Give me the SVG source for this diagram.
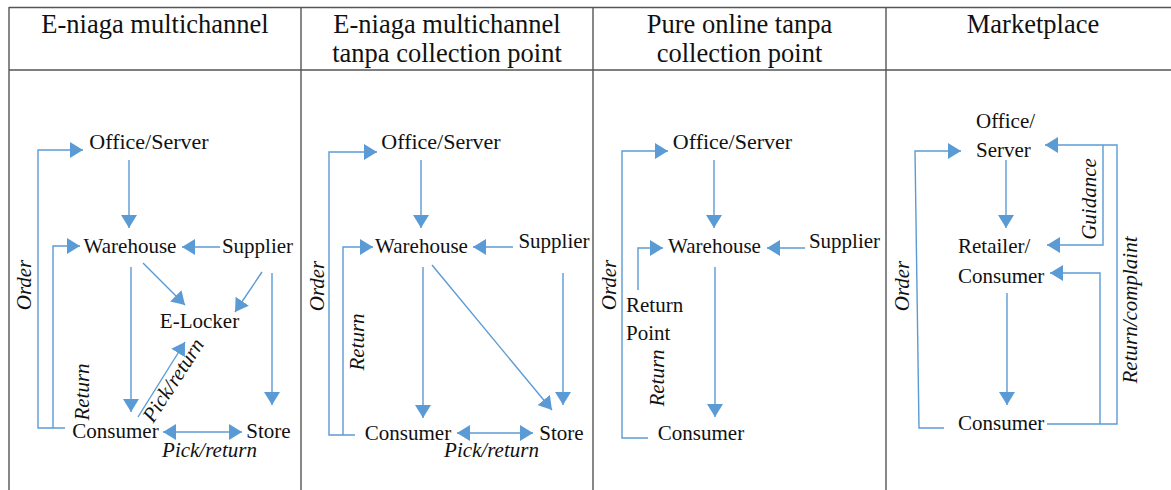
<svg xmlns="http://www.w3.org/2000/svg" width="1171" height="490" viewBox="0 0 1171 490">
<defs>
<marker id="ah" markerUnits="userSpaceOnUse" markerWidth="14" markerHeight="16" refX="13" refY="8" orient="auto-start-reverse"><path d="M0,0 L13,8 L0,16 z" fill="#5B9BD5"/></marker>
<style>
.t{font-family:'Liberation Serif',Tinos,'Times New Roman','DejaVu Serif',serif;font-size:21px;fill:#111}
.m{text-anchor:middle}
.i{font-style:italic}
.h{font-family:'Liberation Serif',Tinos,'Times New Roman','DejaVu Serif',serif;font-size:26.5px;fill:#111;text-anchor:middle}
.g{stroke:#555;stroke-width:1.4;fill:none}
.c{stroke:#5B9BD5;stroke-width:1.4;fill:none}
.a{marker-end:url(#ah)}
.d{marker-start:url(#ah);marker-end:url(#ah)}
</style>
</defs>
<rect width="1171" height="490" fill="#fff"/>
<g id="table">
<line class="g" x1="9" y1="7.5" x2="1171" y2="7.5"/>
<line class="g" x1="9" y1="70" x2="1171" y2="70"/>
<line class="g" x1="9" y1="7" x2="9" y2="490"/>
<line class="g" x1="301" y1="7" x2="301" y2="490"/>
<line class="g" x1="593" y1="7" x2="593" y2="490"/>
<line class="g" x1="886" y1="7" x2="886" y2="490"/>
<text class="h" x="155" y="33">E-niaga multichannel</text>
<text class="h" x="447" y="33">E-niaga multichannel</text>
<text class="h" x="447" y="62">tanpa collection point</text>
<text class="h" x="739.5" y="33">Pure online tanpa</text>
<text class="h" x="739.5" y="62">collection point</text>
<text class="h" x="1033" y="33">Marketplace</text>
</g>
<g id="connectors">
<polyline class="c a" points="65,428 38,428 38,150 83,150"/>
<polyline class="c a" points="53,428 53,246 80,246"/>
<line class="c a" x1="129" y1="160" x2="129" y2="228"/>
<line class="c a" x1="220" y1="247" x2="182" y2="247"/>
<line class="c a" x1="143" y1="263" x2="185" y2="305"/>
<line class="c a" x1="262" y1="272" x2="235" y2="312"/>
<line class="c a" x1="272" y1="273" x2="272" y2="405"/>
<line class="c a" x1="131" y1="267" x2="131" y2="412"/>
<line class="c a" x1="138" y1="417" x2="185" y2="342"/>
<line class="c d" x1="163" y1="432" x2="242" y2="432"/>

<polyline class="c a" points="355,435 329,435 329,152 377,152"/>
<polyline class="c a" points="343,435 343,247 373,247"/>
<line class="c a" x1="421" y1="160" x2="421" y2="228"/>
<line class="c a" x1="513" y1="247" x2="473" y2="247"/>
<line class="c a" x1="423" y1="267" x2="423" y2="418"/>
<line class="c a" x1="432" y1="265" x2="552" y2="410"/>
<line class="c a" x1="563" y1="273" x2="563" y2="405"/>
<line class="c d" x1="457" y1="433" x2="533" y2="433"/>

<polyline class="c a" points="648,438 622,438 622,151 668,151"/>
<polyline class="c a" points="638,290 638,248 663,248"/>
<line class="c a" x1="714" y1="160" x2="714" y2="228"/>
<line class="c a" x1="805" y1="248" x2="767" y2="248"/>
<line class="c a" x1="715" y1="267" x2="715" y2="417"/>

<polyline class="c a" points="944,428 919,428 915,151 961,151"/>
<line class="c a" x1="1006" y1="160" x2="1006" y2="228"/>
<line class="c a" x1="1007" y1="293" x2="1007" y2="405"/>
<polyline class="c a" points="1047,424 1117,424 1117,145 1045,145"/>
<polyline class="c a" points="1100,424 1100,273 1050,273"/>
<polyline class="c a" points="1103,145 1103,245 1047,245"/>
</g>
<g id="labels">
<text class="t i m" transform="translate(31,285) rotate(-90)">Order</text>
<text class="t i m" transform="translate(89,392) rotate(-90)">Return</text>
<text class="t i m" transform="translate(179,384) rotate(-57)">Pick/return</text>
<text class="t i m" x="209.5" y="457">Pick/return</text>
<text class="t i m" transform="translate(324,286) rotate(-90)">Order</text>
<text class="t i m" transform="translate(364,342) rotate(-90)">Return</text>
<text class="t i m" x="491.5" y="457">Pick/return</text>
<text class="t i m" transform="translate(616,285) rotate(-90)">Order</text>
<text class="t i m" transform="translate(664,378) rotate(-90)">Return</text>
<text class="t i m" transform="translate(909,286) rotate(-90)">Order</text>
<text class="t i m" transform="translate(1096,199) rotate(-90)">Guidance</text>
<text class="t i m" transform="translate(1137,310) rotate(-90)">Return/complaint</text>
</g>
<g id="p1-office"><text class="t m" x="149" y="149" style="font-size:22px">Office/Server</text></g>
<g id="p1-warehouse"><text class="t m" x="130" y="253">Warehouse</text></g>
<g id="p1-supplier"><text class="t m" x="257.5" y="253">Supplier</text></g>
<g id="p1-elocker"><text class="t m" x="199.5" y="328">E-Locker</text></g>
<g id="p1-consumer"><text class="t m" x="115.5" y="438">Consumer</text></g>
<g id="p1-store"><text class="t m" x="268.5" y="438">Store</text></g>
<g id="p2-office"><text class="t m" x="441" y="149" style="font-size:22px">Office/Server</text></g>
<g id="p2-warehouse"><text class="t m" x="421.5" y="253">Warehouse</text></g>
<g id="p2-supplier"><text class="t m" x="554" y="248">Supplier</text></g>
<g id="p2-consumer"><text class="t m" x="408" y="440">Consumer</text></g>
<g id="p2-store"><text class="t m" x="561.5" y="440">Store</text></g>
<g id="p3-office"><text class="t m" x="732.5" y="149" style="font-size:22px">Office/Server</text></g>
<g id="p3-warehouse"><text class="t m" x="714.5" y="253">Warehouse</text></g>
<g id="p3-supplier"><text class="t m" x="844.5" y="248">Supplier</text></g>
<g id="p3-returnpoint"><text class="t" x="626" y="312">Return</text><text class="t" x="626" y="340">Point</text></g>
<g id="p3-consumer"><text class="t m" x="701" y="440">Consumer</text></g>
<g id="p4-office"><text class="t" x="976" y="128">Office/</text><text class="t" x="976" y="157">Server</text></g>
<g id="p4-retailer"><text class="t" x="958" y="253">Retailer/</text><text class="t" x="958" y="283">Consumer</text></g>
<g id="p4-consumer"><text class="t" x="958" y="430">Consumer</text></g>
</svg>
